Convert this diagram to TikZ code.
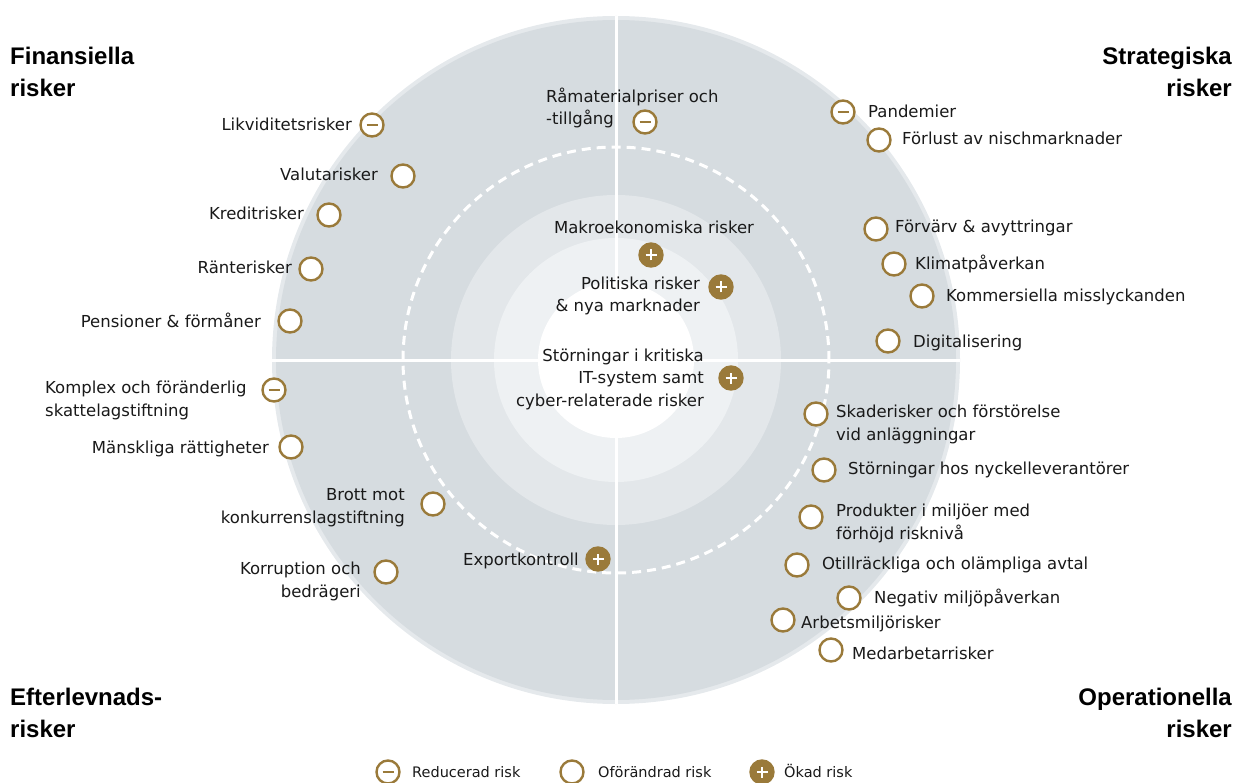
\documentclass[tikz,border=0pt]{standalone}
\usepackage{fontspec}
\setmainfont{DejaVu Sans}
\newfontfamily\headfont{Liberation Sans}
\usepackage{tikz}
\definecolor{riskgold}{RGB}{154,122,58}
\definecolor{ringedge}{RGB}{229,233,236}
\definecolor{ringouter}{RGB}{214,220,224}
\definecolor{ringmid}{RGB}{227,231,234}
\definecolor{ringinner}{RGB}{238,241,243}

\begin{document}
\begin{tikzpicture}[x=1pt, y=-1pt,
  lbl/.style={inner sep=0pt, text=black!90, font=\fontsize{16.5}{22.5}\selectfont},
  legtext/.style={inner sep=0pt, text=black!90, font=\fontsize{14.5}{18}\selectfont, anchor=base west},
  head/.style={inner sep=0pt, font=\headfont\bfseries\fontsize{24}{32}\selectfont},
  mk/.style={circle, draw=riskgold, line width=2.4pt, fill=white, minimum size=23pt, inner sep=0pt},
  mkminus/.style={mk, path picture={\draw[riskgold, line width=2.8pt]
    ([xshift=-5.5pt]path picture bounding box.center) -- ([xshift=5.5pt]path picture bounding box.center);}},
  mkplus/.style={mk, fill=riskgold, path picture={\draw[white, line width=2.8pt]
    ([xshift=-5.5pt]path picture bounding box.center) -- ([xshift=5.5pt]path picture bounding box.center)
    ([yshift=-5.5pt]path picture bounding box.center) -- ([yshift=5.5pt]path picture bounding box.center);}}]
  \useasboundingbox (0,0) rectangle (1236,783);
  % rings
  \coordinate (O) at (616,360);
  \fill[ringedge] (O) circle (344pt);
  \fill[ringouter] (O) circle (340pt);
  \fill[ringmid] (O) circle (165pt);
  \fill[ringinner] (O) circle (122pt);
  \fill[white] (O) circle (78pt);
  \draw[white, line width=3pt, dash pattern=on 9pt off 6pt] (O) circle (213pt);
  \draw[white, line width=3pt] (616,16) -- (616,704) (272,360) -- (960,360);

  % quadrant titles (base = last line)
  \node[head, anchor=base west, align=left] (hFin) at (10,97) {Finansiella\\risker};
  \node[head, anchor=base east, align=right] (hStrat) at (1232,97) {Strategiska\\risker};
  \node[head, anchor=base west, align=left] (hEfter) at (10,737) {Efterlevnads-\\risker};
  \node[head, anchor=base east, align=right] (hOper) at (1232,737) {Operationella\\risker};

  % financial
  \node[mkminus] (mLikv) at (372,125) {};
  \node[lbl, anchor=base east] (tLikv) at (352,131) {Likviditetsrisker};
  \node[mk] (mValuta) at (403,176) {};
  \node[lbl, anchor=base east] (tValuta) at (378,181) {Valutarisker};
  \node[mk] (mKredit) at (329,215) {};
  \node[lbl, anchor=base east] (tKredit) at (304,220) {Kreditrisker};
  \node[mk] (mRanta) at (311,269) {};
  \node[lbl, anchor=base east] (tRanta) at (292,274) {Ränterisker};
  \node[mk] (mPension) at (290,321) {};
  \node[lbl, anchor=base east] (tPension) at (261,327) {Pensioner \& förmåner};

  % strategic
  \node[mkminus] (mRamat) at (645,122) {};
  \node[lbl, anchor=base west, align=left] (tRamat) at (546,125) {Råmaterialpriser och\\-tillgång};
  \node[mkminus] (mPandemi) at (843,112) {};
  \node[lbl, anchor=base west] (tPandemi) at (868,118) {Pandemier};
  \node[mk] (mNisch) at (879,140) {};
  \node[lbl, anchor=base west] (tNisch) at (902,145) {Förlust av nischmarknader};
  \node[mk] (mForvarv) at (876,229) {};
  \node[lbl, anchor=base west] (tForvarv) at (895,233) {Förvärv \& avyttringar};
  \node[mk] (mKlimat) at (894,264) {};
  \node[lbl, anchor=base west] (tKlimat) at (915,270) {Klimatpåverkan};
  \node[mk] (mKommers) at (922,296) {};
  \node[lbl, anchor=base west] (tKommers) at (946,302) {Kommersiella misslyckanden};
  \node[mk] (mDigital) at (888,341) {};
  \node[lbl, anchor=base west] (tDigital) at (913,348) {Digitalisering};

  % centre
  \node[lbl, anchor=base] (tMakro) at (654,234) {Makroekonomiska risker};
  \node[mkplus] (mMakro) at (651,255) {};
  \node[lbl, anchor=base east, align=right] (tPolitik) at (700,312) {Politiska risker\\\& nya marknader};
  \node[mkplus] (mPolitik) at (721,287) {};
  \node[lbl, anchor=base east, align=right] (tIT) at (704,406) {Störningar i kritiska\\IT-system samt\\cyber-relaterade risker};
  \node[mkplus] (mIT) at (731,378) {};

  % operational
  \node[mk] (mSkada) at (816,414) {};
  \node[lbl, anchor=base west, align=left] (tSkada) at (836,440) {Skaderisker och förstörelse\\vid anläggningar};
  \node[mk] (mLevera) at (824,470) {};
  \node[lbl, anchor=base west] (tLevera) at (848,474) {Störningar hos nyckelleverantörer};
  \node[mk] (mProdukt) at (811,517) {};
  \node[lbl, anchor=base west, align=left] (tProdukt) at (836,539) {Produkter i miljöer med\\förhöjd risknivå};
  \node[mk] (mAvtal) at (797,565) {};
  \node[lbl, anchor=base west] (tAvtal) at (822,569) {Otillräckliga och olämpliga avtal};
  \node[mk] (mMiljo) at (849,598) {};
  \node[lbl, anchor=base west] (tMiljo) at (874,603) {Negativ miljöpåverkan};
  \node[mk] (mArbets) at (783,620) {};
  \node[lbl, anchor=base west] (tArbets) at (801,628) {Arbetsmiljörisker};
  \node[mk] (mMedarb) at (831,650) {};
  \node[lbl, anchor=base west] (tMedarb) at (852,659) {Medarbetarrisker};

  % compliance
  \node[mkminus] (mSkatt) at (274,390) {};
  \node[lbl, anchor=base west, align=left] (tSkatt) at (45,416) {Komplex och föränderlig\\skattelagstiftning};
  \node[mk] (mRattig) at (291,447) {};
  \node[lbl, anchor=base east] (tRattig) at (269,453) {Mänskliga rättigheter};
  \node[mk] (mKonkur) at (433,504) {};
  \node[lbl, anchor=base east, align=right] (tKonkur) at (405,523) {Brott mot\\konkurrenslagstiftning};
  \node[mk] (mKorrup) at (386,572) {};
  \node[lbl, anchor=base east, align=right] (tKorrup) at (361,597) {Korruption och\\bedrägeri};
  \node[mkplus] (mExport) at (598,559) {};
  \node[lbl, anchor=base east] (tExport) at (579,565) {Exportkontroll};

  % legend
  \node[mkminus] (lRed) at (388,772) {};
  \node[legtext] (tRed) at (412,777) {Reducerad risk};
  \node[mk] (lOfor) at (572,772) {};
  \node[legtext] (tOfor) at (598,777) {Oförändrad risk};
  \node[mkplus] (lOkad) at (762,772) {};
  \node[legtext] (tOkad) at (784,777) {Ökad risk};
\end{tikzpicture}
\end{document}
